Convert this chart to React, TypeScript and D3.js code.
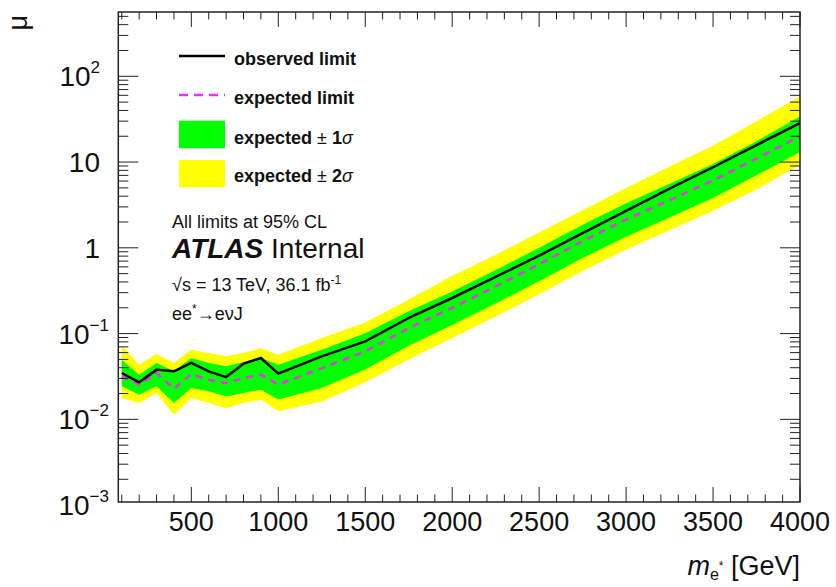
import React from 'react';
import * as d3 from 'd3';

// Excited-electron search: 95% CL upper limits on the signal strength mu vs m_e*
const massPoints = [100, 200, 300, 400, 500, 600, 700, 800, 900, 1000, 1250, 1500, 1750, 2000, 2250, 2500, 2750, 3000, 3250, 3500, 3750, 4000];
const observedLimit = [0.0347, 0.027, 0.038, 0.0363, 0.0454, 0.0363, 0.0311, 0.0446, 0.0519, 0.0341, 0.0543, 0.081, 0.152, 0.26, 0.457, 0.81, 1.48, 2.7, 4.9, 8.7, 15.8, 28.5];
const expectedLimit = [0.0317, 0.0254, 0.0347, 0.0228, 0.0337, 0.029, 0.0265, 0.0303, 0.0332, 0.0254, 0.0396, 0.0621, 0.116, 0.2, 0.355, 0.645, 1.2, 2.14, 3.6, 6.1, 11.0, 20.0];
const expectedPlus1 = [0.0497, 0.0332, 0.0454, 0.0363, 0.0519, 0.0454, 0.0415, 0.0466, 0.0519, 0.0434, 0.065, 0.101, 0.182, 0.31, 0.55, 1.0, 1.86, 3.3, 5.6, 9.5, 17.5, 34];
const expectedMinus1 = [0.0243, 0.0194, 0.0243, 0.0155, 0.0232, 0.0212, 0.0185, 0.0203, 0.0222, 0.017, 0.0232, 0.038, 0.072, 0.126, 0.224, 0.407, 0.76, 1.35, 2.25, 3.8, 7.0, 13.1];
const expectedPlus2 = [0.073, 0.0434, 0.0578, 0.0454, 0.065, 0.0593, 0.0543, 0.0593, 0.068, 0.0568, 0.0888, 0.135, 0.249, 0.469, 0.83, 1.51, 2.75, 5.0, 8.9, 15.5, 30, 58];
const expectedMinus2 = [0.0176, 0.0155, 0.0203, 0.0113, 0.0177, 0.0155, 0.0135, 0.0155, 0.017, 0.0124, 0.0162, 0.027, 0.05, 0.089, 0.158, 0.288, 0.537, 0.955, 1.6, 2.7, 4.8, 9.3];

const xMajorTicks = [500, 1000, 1500, 2000, 2500, 3000, 3500, 4000];
const xTickLabels = ['500', '1000', '1500', '2000', '2500', '3000', '3500', '4000'];
const yMajorTicks = [1e-3, 1e-2, 1e-1, 1, 10, 100];
const yTickBase = ['10', '10', '10', '1', '10', '10'];
const yTickExp = ['\u22123', '\u22122', '\u22121', '', '', '2'];

const W = 836;
const H = 587;
const PLOT = { left: 118.3, right: 800, top: 12, bottom: 502 };
const FONT = "'Liberation Sans', Arial, Helvetica, sans-serif";
const YELLOW = '#ffff00';
const GREEN = '#00ff00';
const MAGENTA = '#f030f0';

type Row = { m: number; obs: number; exp: number; p1: number; m1: number; p2: number; m2: number };

export default function App() {
  const x = d3.scaleLinear().domain([80, 4000]).range([PLOT.left, PLOT.right]);
  const y = d3.scaleLog().domain([0.001087, 562]).range([PLOT.bottom, PLOT.top]);

  const rows: Row[] = massPoints.map((m, i) => ({
    m,
    obs: observedLimit[i],
    exp: expectedLimit[i],
    p1: expectedPlus1[i],
    m1: expectedMinus1[i],
    p2: expectedPlus2[i],
    m2: expectedMinus2[i],
  }));

  const band2 = d3.area<Row>().x(d => x(d.m)).y0(d => y(d.m2)).y1(d => y(d.p2))(rows) || '';
  const band1 = d3.area<Row>().x(d => x(d.m)).y0(d => y(d.m1)).y1(d => y(d.p1))(rows) || '';
  const expLine = d3.line<Row>().x(d => x(d.m)).y(d => y(d.exp))(rows) || '';
  const obsLine = d3.line<Row>().x(d => x(d.m)).y(d => y(d.obs))(rows) || '';

  const xMinor = d3.range(100, 4001, 100).filter(v => v % 500 !== 0);
  const [yLo, yHi] = y.domain();
  const yMinor: number[] = [];
  for (let e = -3; e <= 2; e++) {
    for (let k = 2; k <= 9; k++) {
      const v = k * Math.pow(10, e);
      if (v > yLo && v < yHi) yMinor.push(v);
    }
  }

  const tickStroke = '#222';

  return (
    <svg width={W} height={H} style={{ position: 'absolute', left: 0, top: 0, background: '#fff' }} fontFamily={FONT}>
      <defs>
        <clipPath id="plotClip">
          <rect x={PLOT.left} y={PLOT.top} width={PLOT.right - PLOT.left} height={PLOT.bottom - PLOT.top} />
        </clipPath>
      </defs>

      <g clipPath="url(#plotClip)">
        <path d={band2} fill={YELLOW} />
        <path d={band1} fill={GREEN} />
        <path d={expLine} fill="none" stroke={MAGENTA} strokeWidth={2.5} strokeDasharray="7,6" />
        <path d={obsLine} fill="none" stroke="#000" strokeWidth={2.5} strokeLinejoin="round" />
      </g>

      {/* x ticks, bottom and top */}
      {xMajorTicks.map(v => (
        <g key={'xM' + v} stroke={tickStroke} strokeWidth={1}>
          <line x1={x(v)} x2={x(v)} y1={PLOT.bottom} y2={PLOT.bottom - 15} />
          <line x1={x(v)} x2={x(v)} y1={PLOT.top} y2={PLOT.top + 15} />
        </g>
      ))}
      {xMinor.map(v => (
        <g key={'xm' + v} stroke={tickStroke} strokeWidth={1}>
          <line x1={x(v)} x2={x(v)} y1={PLOT.bottom} y2={PLOT.bottom - 7.5} />
          <line x1={x(v)} x2={x(v)} y1={PLOT.top} y2={PLOT.top + 7.5} />
        </g>
      ))}

      {/* y ticks, left and right */}
      {yMajorTicks.filter(v => v > yLo && v < yHi).map(v => (
        <g key={'yM' + v} stroke={tickStroke} strokeWidth={1}>
          <line x1={PLOT.left} x2={PLOT.left + 20} y1={y(v)} y2={y(v)} />
          <line x1={PLOT.right} x2={PLOT.right - 20} y1={y(v)} y2={y(v)} />
        </g>
      ))}
      {yMinor.map(v => (
        <g key={'ym' + v} stroke={tickStroke} strokeWidth={1}>
          <line x1={PLOT.left} x2={PLOT.left + 10} y1={y(v)} y2={y(v)} />
          <line x1={PLOT.right} x2={PLOT.right - 10} y1={y(v)} y2={y(v)} />
        </g>
      ))}

      <rect x={PLOT.left} y={PLOT.top} width={PLOT.right - PLOT.left} height={PLOT.bottom - PLOT.top}
        fill="none" stroke="#222" strokeWidth={1.5} />

      {/* x tick labels */}
      {xMajorTicks.map((v, i) => (
        <text key={'xl' + v} x={x(v)} y={531} textAnchor="middle" fontSize={27} fill="#111">{xTickLabels[i]}</text>
      ))}

      {/* y tick labels */}
      {yMajorTicks.map((v, i) => (
        <text key={'yl' + v} x={yTickExp[i].startsWith('\u2212') ? 109 : 100} y={y(v) + 10} textAnchor="end" fontSize={28} fill="#111">
          {yTickBase[i]}
          {yTickExp[i] && <tspan fontSize={17} dy={-13}>{yTickExp[i]}</tspan>}
        </text>
      ))}

      {/* axis titles */}
      <text transform="translate(26.5,15) rotate(-90)" textAnchor="end" fontSize={27} fill="#111">μ</text>
      <text x={800} y={575} textAnchor="end" fontSize={27} fill="#111">
        <tspan fontStyle="italic">m</tspan>
        <tspan fontSize={16} dy={5}>e</tspan>
        <tspan fontSize={12} dy={-10}>*</tspan>
        <tspan dy={5}> [GeV]</tspan>
      </text>

      {/* legend */}
      <line x1={179} x2={225} y1={56} y2={56} stroke="#000" strokeWidth={2.5} />
      <line x1={179} x2={225} y1={95} y2={95} stroke={MAGENTA} strokeWidth={2.5} strokeDasharray="9,6" />
      <rect x={179} y={120.7} width={46} height={27.6} fill={GREEN} />
      <rect x={179} y={160} width={46} height={27.3} fill={YELLOW} />
      <g fontSize={18} fontWeight="bold" fill="#111">
        <text x={234} y={65}>observed limit</text>
        <text x={234} y={103.5}>expected limit</text>
        <text x={234} y={143.5}>expected <tspan fontWeight="normal">±</tspan> 1<tspan fontWeight="normal" fontStyle="italic">σ</tspan></text>
        <text x={234} y={181.5}>expected <tspan fontWeight="normal">±</tspan> 2<tspan fontWeight="normal" fontStyle="italic">σ</tspan></text>
      </g>

      {/* annotations */}
      <text x={172} y={228} fontSize={18} fill="#111">All limits at 95% CL</text>
      <text x={172} y={258} fontSize={28} fill="#111">
        <tspan fontWeight="bold" fontStyle="italic">ATLAS</tspan>
        <tspan> Internal</tspan>
      </text>
      <text x={172} y={291} fontSize={18} fill="#111">
        √s = 13 TeV, 36.1 fb<tspan fontSize={12} dy={-7}>-1</tspan>
      </text>
      <text x={172} y={320} fontSize={18} fill="#111">
        ee<tspan fontSize={12} dy={-7}>*</tspan><tspan dy={7}>→eνJ</tspan>
      </text>
    </svg>
  );
}
